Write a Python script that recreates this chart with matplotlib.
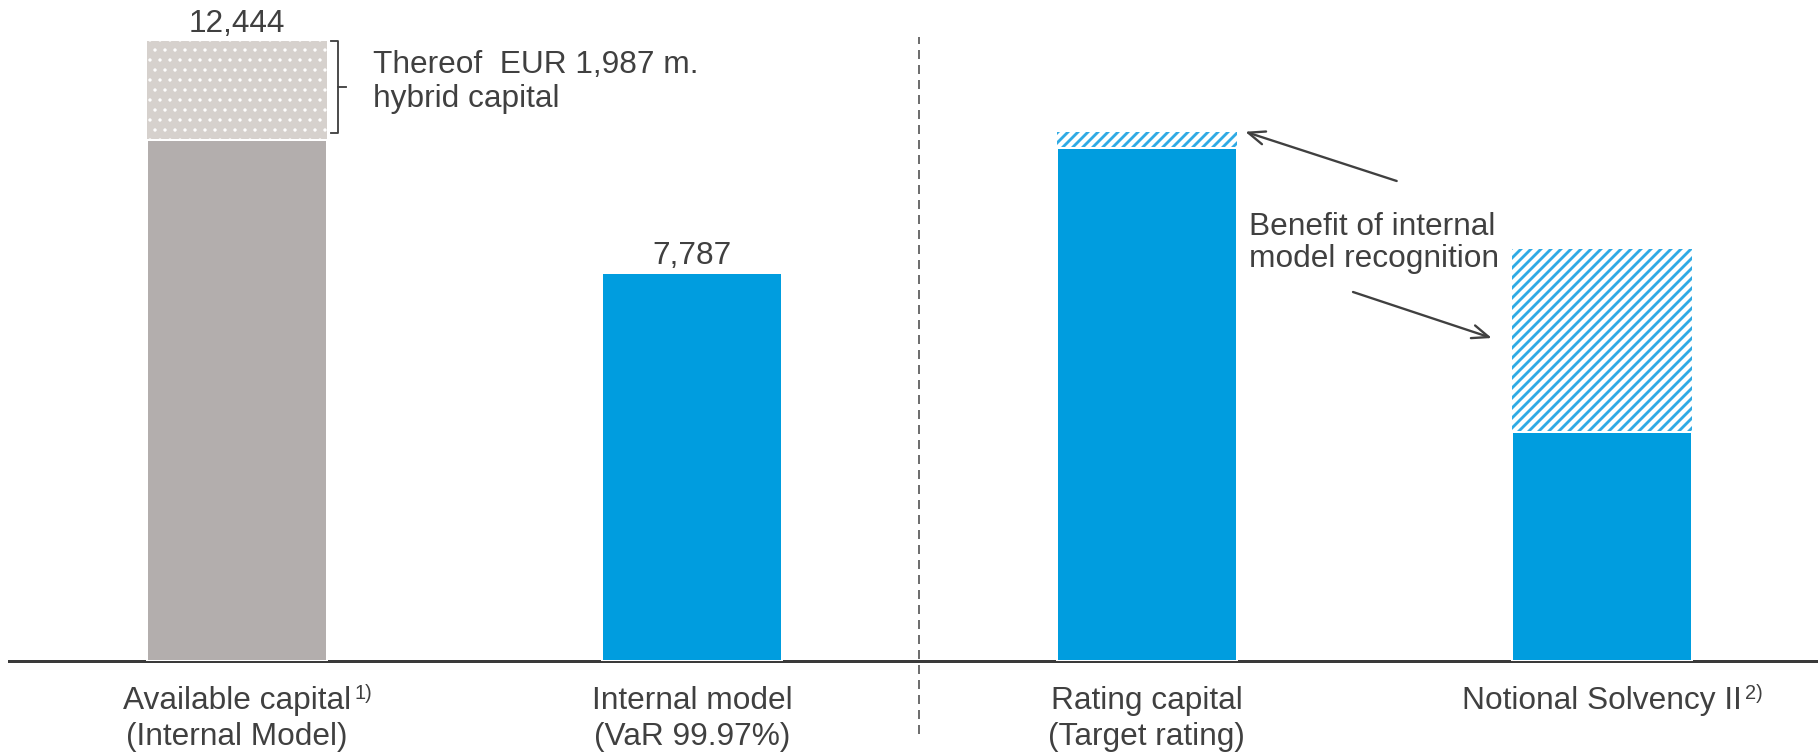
import matplotlib
matplotlib.use("Agg")
import matplotlib.pyplot as plt

# capital figures in EUR m.
categories = ["Available capital", "Internal model", "Rating capital", "Notional Solvency II"]
subtitles = ["(Internal Model)", "(VaR 99.97%)", "(Target rating)", ""]
footnotes = ["1)", "", "", "2)"]
core_values = [10457, 7787, 10297, 4603]
upper_values = [1987, 0, 327, 3661]      # hybrid capital / internal model benefit
show_total = [True, True, False, False]

plt.rcParams["font.family"] = ["Liberation Sans", "DejaVu Sans"]
plt.rcParams["hatch.linewidth"] = 1.7

TEXT = "#404040"
GRAY = "#B3AEAD"
GRAY_LIGHT = "#D6D1CD"
BLUE = "#009DDF"
BLUE_HATCH = "#2FAAE4"
FS = 19

fig = plt.figure(figsize=(1818 / 120, 753 / 120), dpi=120)
ax = fig.add_axes([9 / 1818, 1 - 661 / 753, 1 - 9 / 1818, 661 / 753])

x = list(range(len(categories)))
width = 0.396
totals = [c + u for c, u in zip(core_values, upper_values)]

# upper segments (hatched) drawn first, solid bars with white edge on top
upper_faces = [GRAY_LIGHT, "none", "white", "white"]
upper_edges = ["white", "none", BLUE_HATCH, BLUE_HATCH]
upper_hatch = ["..", "", "////", "////"]
upper_hlw = [0.8, 1.0, 1.7, 1.7]
upper = ax.bar(x, upper_values, bottom=core_values, width=width,
               color=upper_faces, edgecolor=upper_edges, linewidth=0, zorder=2)
for p, h, lw in zip(upper.patches, upper_hatch, upper_hlw):
    p.set_hatch(h)
    if hasattr(p, "set_hatch_linewidth"):
        p.set_hatch_linewidth(lw)

ax.bar(x, core_values, width=width, color=[GRAY, BLUE, BLUE, BLUE],
       edgecolor="white", linewidth=1.2, zorder=3)

# totals above the first two bars
for i, t in enumerate(totals):
    if show_total[i]:
        ax.annotate(f"{t:,}", xy=(i, t), xytext=(0, 1), textcoords="offset points",
                    ha="center", va="bottom", fontsize=FS, color=TEXT)

# bracket for hybrid capital
top = totals[0]
bottom = core_values[0] + 150
mid = (top + bottom) / 2
bx = width / 2
ax.plot([bx + 0.008, bx + 0.025, bx + 0.025, bx + 0.042],
        [top, top, mid, mid], color=TEXT, lw=1.1, zorder=4)
ax.plot([bx + 0.008, bx + 0.025, bx + 0.025],
        [bottom, bottom, mid], color=TEXT, lw=1.1, zorder=4)
ax.text(bx + 0.10, mid + 100, f"Thereof  EUR {upper_values[0]:,} m.\nhybrid capital",
        ha="left", va="center", fontsize=FS, color=TEXT, linespacing=1.2)

# benefit of internal model recognition
ax.text(2.224, 8390, "Benefit of internal\nmodel recognition", ha="left", va="center",
        fontsize=FS, color=TEXT, linespacing=1.12)
arrow = dict(arrowstyle="->,head_length=1.0,head_width=0.4", color=TEXT, lw=1.4,
             shrinkA=0, shrinkB=0)
ax.annotate("", xy=(2 + width / 2 + 0.018, totals[2]), xytext=(2.549, 9635),
            arrowprops=arrow)
ax.annotate("", xy=(3 - width / 2 - 0.044, 6483), xytext=(2.453, 7407),
            arrowprops=arrow)

# divider between available and required capital
ax.plot([1.5, 1.5], [-0.11, 0.944], transform=ax.get_xaxis_transform(),
        clip_on=False, color=TEXT, lw=0.9, ls=(0, (6, 4)), zorder=1)

# category labels with footnote markers
xt = ax.get_xaxis_transform()
for i, (cat, sub, note) in enumerate(zip(categories, subtitles, footnotes)):
    t = ax.text(i, -0.0726, cat, transform=xt, ha="center", va="baseline",
                fontsize=FS, color=TEXT)
    if sub:
        ax.text(i, -0.127, sub, transform=xt, ha="center", va="baseline",
                fontsize=FS, color=TEXT)
    if note:
        ax.annotate(note, xy=(1, 1), xycoords=t, xytext=(2, 1), textcoords="offset points",
                    ha="left", va="top", fontsize=12, color=TEXT)

ax.set_xlim(-0.501, 3.475)
ax.set_ylim(0, 13268)
for s in ["top", "left", "right"]:
    ax.spines[s].set_visible(False)
ax.spines["bottom"].set_color("#3A3A3A")
ax.spines["bottom"].set_linewidth(1.8)
ax.set_xticks([])
ax.set_yticks([])

fig.savefig("out.png", dpi=120)
